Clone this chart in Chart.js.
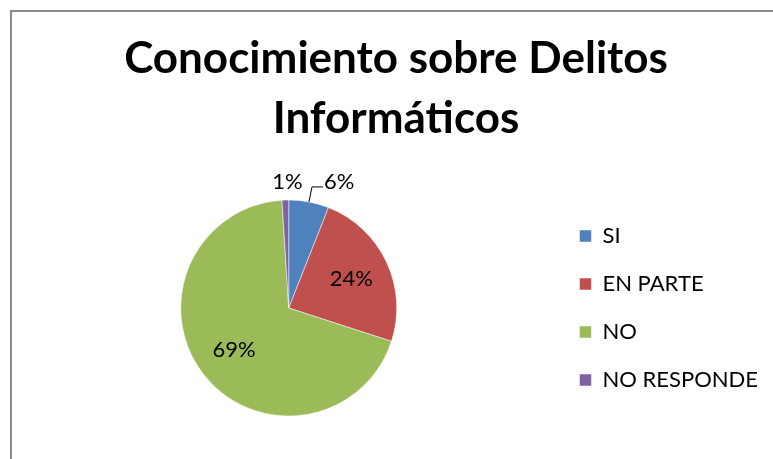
<!DOCTYPE html>
<html>
<head>
<meta charset="utf-8">
<script src="https://cdn.jsdelivr.net/npm/chart.js@4/dist/chart.umd.min.js"></script>
<style>
  html, body { margin: 0; padding: 0; background: #fff; overflow: hidden; }
  #frame {
    position: absolute; left: 10px; top: 10px;
    width: 761px; height: 455px;
    border-left: 2px solid #8c8c8c; border-top: 2px solid #8c8c8c;
  }
</style>
</head>
<body>
<div id="frame"><canvas id="pie-delitos"></canvas></div>
<script>
// data
const categorias = ["SI", "EN PARTE", "NO", "NO RESPONDE"];
const porcentajes = [6, 24, 69, 1];
const colores = ["#4F81BD", "#C0504D", "#9BBB59", "#8064A2"];
const titulo = ["Conocimiento sobre Delitos", "Informáticos"];

const fuente = "Lato, 'Liberation Sans', sans-serif";

// percentage labels, inside for big slices, outside (with leader) for small ones
const etiquetas = {
    id: 'etiquetas',
    afterDatasetsDraw(chart) {
        const ctx = chart.ctx;
        const meta = chart.getDatasetMeta(0);
        ctx.save();
        ctx.font = "22px " + fuente;
        ctx.fillStyle = "#000";
        ctx.strokeStyle = "#000";
        ctx.lineWidth = 1;
        meta.data.forEach(function(arc, i) {
            const p = arc.getProps(['x', 'y', 'startAngle', 'endAngle', 'outerRadius'], true);
            const mid = (p.startAngle + p.endAngle) / 2;
            const texto = porcentajes[i] + "%";
            if (porcentajes[i] >= 10) {
                const d = p.outerRadius * 0.64;
                ctx.textAlign = "center";
                ctx.textBaseline = "middle";
                ctx.fillText(texto, p.x + Math.cos(mid) * d, p.y + Math.sin(mid) * d);
            } else {
                const ax = p.x + Math.cos(mid) * p.outerRadius;
                const ay = p.y + Math.sin(mid) * p.outerRadius;
                ctx.textBaseline = "middle";
                if (Math.cos(mid) > 0.1) {
                    ctx.beginPath();
                    ctx.moveTo(ax, ay);
                    ctx.lineTo(ax + 3, ay - 15);
                    ctx.lineTo(ax + 14, ay - 15);
                    ctx.stroke();
                    ctx.textAlign = "left";
                    ctx.fillText(texto, ax + 15, ay - 20);
                } else {
                    ctx.textAlign = "center";
                    ctx.fillText(texto, ax + 2, ay - 18);
                }
            }
        });
        ctx.restore();
    }
};

document.addEventListener("DOMContentLoaded", function() {
    new Chart(document.getElementById("pie-delitos"), {
        type: 'pie',
        data: {
            labels: categorias,
            datasets: [{
                data: porcentajes,
                backgroundColor: colores,
                borderColor: "#ffffff",
                borderWidth: 0.5,
                radius: 108
            }]
        },
        options: {
            responsive: true,
            maintainAspectRatio: false,
            animation: false,
            layout: { padding: { left: 12, right: 5, top: 0, bottom: 0 } },
            plugins: {
                title: {
                    display: true,
                    text: titulo,
                    color: "#000",
                    font: { family: fuente, size: 44, weight: 'bold', lineHeight: 60 / 44 },
                    padding: { top: 17, bottom: 0 }
                },
                legend: {
                    position: 'right',
                    fullSize: false,
                    labels: {
                        color: "#000",
                        font: { family: fuente, size: 22 },
                        boxWidth: 12,
                        boxHeight: 12,
                        padding: 26
                    }
                },
                tooltip: { enabled: false }
            }
        },
        plugins: [etiquetas]
    });
});
</script>
</body>
</html>
